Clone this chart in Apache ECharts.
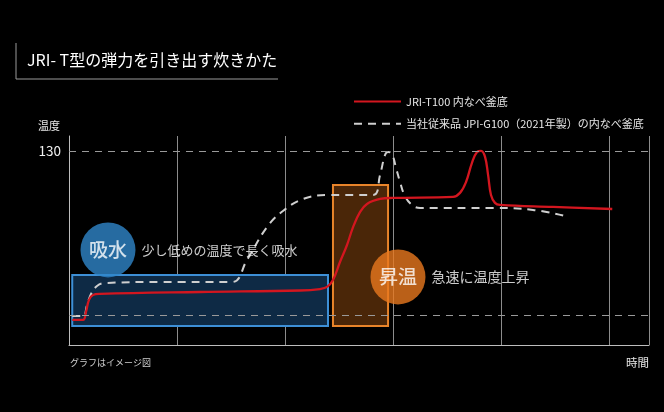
<!DOCTYPE html>
<html>
<head>
<meta charset="utf-8">
<script src="https://cdn.jsdelivr.net/npm/echarts@6/dist/echarts.min.js"></script>
<style>html,body{margin:0;padding:0;background:#000;}#c{width:664px;height:412px;}</style>
</head>
<body>
<div id="c"></div>
<script>
// ---- data (x in time units, y in temperature) ----
var titleText = 'JRI- T型の弾力を引き出す炊きかた';
var seriesNames = ['JRI-T100 内なべ釜底', '当社従来品 JPI-G100（2021年製）の内なべ釜底'];
var newModel = [
  [0.03,16.8],[0.13,16.8],[0.157,22.1],[0.185,30.2],[0.222,33.5],[0.287,34.2],
  [1.213,35.5],[2.139,36.5],[2.324,37.5],[2.389,38.9],[2.444,43.6],[2.509,55.6],
  [2.574,67],[2.63,79],[2.694,89],[2.759,94.5],[2.88,97.8],[3.0,98.5],[3.556,99.2],
  [3.62,101.9],[3.676,109.2],[3.731,122],[3.778,129.3],[3.815,130],[3.852,126],
  [3.88,114],[3.907,100.5],[3.944,95.2],[3.99,93.8],[4.48,92.5],[5.03,91.1]
];
var oldModel = [
  [0.03,19.4],[0.13,19.4],[0.167,26.8],[0.204,34.2],[0.259,39.5],[0.333,41.5],
  [0.843,42.2],[1.509,42.2],[1.648,57],[1.833,79],[1.981,89.8],[2.167,97.8],
  [2.389,100.5],[2.815,100.5],[2.88,114],[2.926,127.3],[2.954,129.3],[2.99,128],
  [3.028,118.6],[3.065,109.2],[3.11,99.8],[3.176,93.8],[3.25,91.8],[3.926,91.8],
  [4.296,90.5],[4.593,86.4]
];
var refTemps = [20, 130];
var refLabels = ['', '130'];
var soakPhase = { name: '吸水', desc: '少し低めの温度で長く吸水', x: [0.03, 2.398], y: [12.7, 46.9], at: [0.361, 63.7] };
var heatPhase = { name: '昇温', desc: '急速に温度上昇', x: [2.444, 2.954], y: [12.7, 107.2], at: [3.046, 45.6] };
var yName = '温度', xName = '時間', note = 'グラフはイメージ図';

var FONT = '"Noto Sans CJK JP", "Noto Sans", sans-serif';
var chart = echarts.init(document.getElementById('c'));
chart.setOption({
  backgroundColor: '#000',
  animation: false,
  textStyle: { fontFamily: FONT },
  grid: { left: 69, right: 15, top: 136, bottom: 67 },
  legend: {
    orient: 'vertical', left: 348, top: 91, itemWidth: 47, itemHeight: 14, itemGap: 11,
    textStyle: { color: '#e6e6e6', fontSize: 11, fontFamily: FONT },
    itemStyle: { opacity: 0 },
    data: seriesNames
  },
  graphic: [
    { type: 'line', shape: { x1: 16, y1: 43, x2: 16, y2: 79 }, style: { stroke: '#9a9a9a', lineWidth: 1 } },
    { type: 'line', shape: { x1: 16, y1: 79, x2: 278, y2: 79 }, style: { stroke: '#9a9a9a', lineWidth: 1 } },
    { type: 'text', left: 27, top: 52, style: { text: titleText, fill: '#fff', font: '16px ' + FONT } },
    { type: 'text', left: 70, top: 358, style: { text: note, fill: '#cfcfcf', font: '9px ' + FONT } }
  ],
  xAxis: {
    type: 'value', min: 0, max: 5.37, interval: 1,
    name: xName, nameLocation: 'end', nameGap: 0,
    nameTextStyle: { color: '#e6e6e6', fontSize: 11.5, align: 'right', verticalAlign: 'top', padding: [12, 0, 0, 0] },
    axisLine: { lineStyle: { color: '#bdbdbd', width: 1 } },
    axisTick: { show: false }, axisLabel: { show: false },
    splitLine: { show: true, lineStyle: { color: '#8c8c8c', width: 1 } }
  },
  yAxis: {
    type: 'value', min: 0, max: 140,
    name: yName, nameLocation: 'end', nameGap: 10,
    nameTextStyle: { color: '#e6e6e6', fontSize: 11, align: 'right', verticalAlign: 'middle', padding: [0, 9, 0, 0] },
    axisLine: { show: true, lineStyle: { color: '#bdbdbd', width: 1 } },
    axisTick: { show: false }, axisLabel: { show: false }, splitLine: { show: false }
  },
  series: [
    {
      name: '_areas', type: 'line', data: [], z: 1,
      markArea: {
        silent: true,
        data: [
          [{ xAxis: soakPhase.x[0], yAxis: soakPhase.y[0], itemStyle: { color: '#0e2a45', borderColor: '#3d8fd6', borderWidth: 2 } },
           { xAxis: soakPhase.x[1], yAxis: soakPhase.y[1] }],
          [{ xAxis: heatPhase.x[0], yAxis: heatPhase.y[0], itemStyle: { color: '#4a2608', borderColor: '#e8842a', borderWidth: 2 } },
           { xAxis: heatPhase.x[1], yAxis: heatPhase.y[1] }]
        ]
      }
    },
    {
      name: '_refs', type: 'line', data: [], z: 2,
      markLine: {
        silent: true, symbol: 'none',
        lineStyle: { color: '#9a9a9a', type: [7, 6], width: 1 },
        label: { position: 'start', distance: 8, color: '#f0f0f0', fontSize: 13.5, fontFamily: FONT,
          formatter: function (p) { return refLabels[p.dataIndex]; } },
        data: refTemps.map(function (t) { return { yAxis: t }; })
      }
    },
    {
      name: seriesNames[1], type: 'line', data: oldModel, smooth: 0.4, symbol: 'none', z: 3,
      lineStyle: { color: '#cfcfcf', width: 2, type: [8, 6] }, itemStyle: { color: '#cfcfcf' }
    },
    {
      name: seriesNames[0], type: 'line', data: newModel, smooth: 0.4, symbol: 'none', z: 4,
      lineStyle: { color: '#d3161f', width: 2.3 }, itemStyle: { color: '#d3161f' }
    },
    {
      name: '_badges', type: 'scatter', z: 5, symbolSize: 55,
      data: [
        { value: soakPhase.at, name: soakPhase.name, itemStyle: { color: '#2f86c9' } },
        { value: heatPhase.at, name: heatPhase.name, itemStyle: { color: '#e8781e' } }
      ],
      label: { show: true, position: 'inside', formatter: '{b}', color: '#fff', fontSize: 19, fontWeight: 500, fontFamily: FONT }
    },
    {
      name: '_desc', type: 'scatter', z: 5, symbolSize: 1, itemStyle: { color: 'rgba(0,0,0,0)' },
      data: [
        { value: soakPhase.at, name: soakPhase.desc, label: { fontSize: 13 } },
        { value: heatPhase.at, name: heatPhase.desc, label: { fontSize: 14 } }
      ],
      label: { show: true, position: 'right', distance: 33, formatter: '{b}', color: '#fff', fontFamily: FONT }
    }
  ]
});
</script>
</body>
</html>
